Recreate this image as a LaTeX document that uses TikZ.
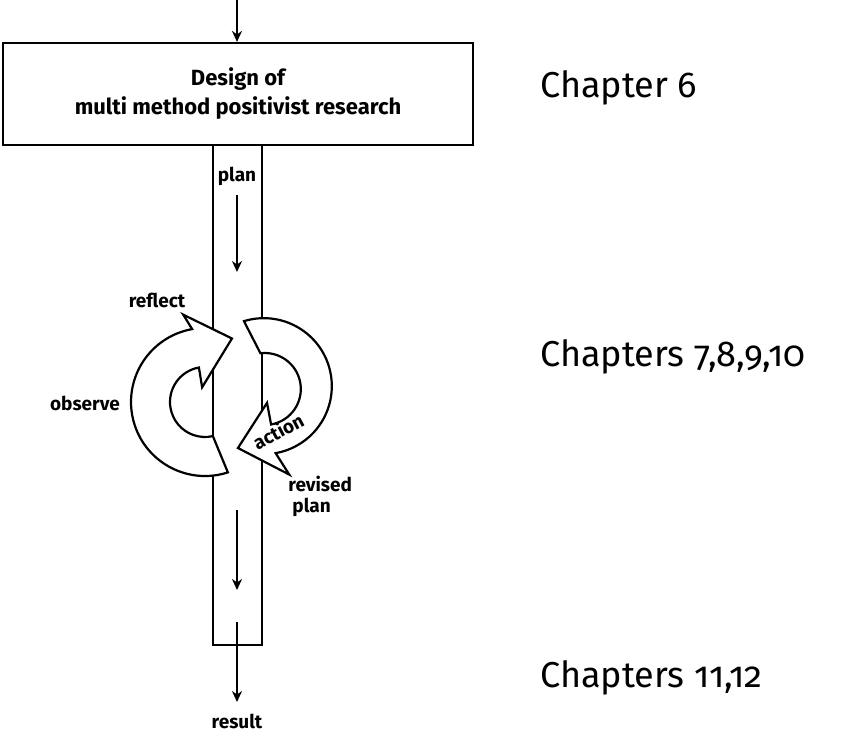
\documentclass[tikz,border=0pt]{standalone}
\usepackage{fontspec}
\setmainfont{Fira Sans}
\newfontfamily\chapfont[Numbers=OldStyle]{Fira Sans}
\usetikzlibrary{positioning,calc,arrows.meta}
\begin{document}
\begin{tikzpicture}[x=1pt,y=1pt,line width=2.2pt,>={Stealth[length=11pt,width=10pt]},
		box node/.style={rectangle, draw, minimum width=470pt, minimum height=102pt, align=center, font=\fontsize{22}{29}\selectfont\bfseries},
		tag node/.style={font=\fontsize{19}{21}\selectfont\bfseries, align=center},
		chap node/.style={anchor=west, font=\fontsize{36}{40}\chapfont},
		cycle arrow/.style={draw, fill=white, line join=miter}]

	\useasboundingbox (0,0) rectangle (848,-733);
	\node[box node] (design) at (238,-94) {Design of\\multi method positivist research};
	\coordinate (top) at (237,0);
	\draw[->] (top) -- (design.north -| top);

	% column
	\coordinate (colNW) at (213,-145);
	\coordinate (colSE) at (262,-645);
	\draw (colNW) rectangle (colSE);
	\node[tag node] (plan) at (237,-176) {plan};
	\draw[->] (237,-195) -- (237,-272);
	\draw[->] (237,-510) -- (237,-590);
	\draw[->] (237,-622) -- (237,-702);
	\node[tag node] (result) at (237,-721) {result};

	% cycle
	\coordinate (L) at (205,-402);
	\coordinate (R) at (265,-390);
	\draw[cycle arrow] ($(L)+(-72:74)$) arc[start angle=-72, end angle=-260, radius=74]
		-- ($(L)+(104:90)$) -- ($(L)+(67:69)$) -- ($(L)+(101:15)$) -- ($(L)+(100:35)$)
		arc[start angle=100, end angle=283, radius=35] -- cycle;
	\draw[cycle arrow] ($(R)+(107:72)$) arc[start angle=107, end angle=-80, radius=68]
		-- ($(R)+(-74:88)$) -- ($(R)+(-115:64)$) -- ($(R)+(-81:13)$) -- ($(R)+(-80:35)$)
		arc[start angle=-80, end angle=97, radius=36] -- cycle;

	\node[tag node] (reflect) at (157,-300) {reflect};
	\node[tag node] (observe) at (85,-403) {observe};
	\node[tag node, rotate=28, inner sep=0pt] (action) at (278,-431) {action};
	\node[tag node, align=left, anchor=north west] (revised) at (284,-472) {revised\\\hspace*{4pt}plan};

	\node[chap node] (ch6) at (536,-88) {Chapter 6};
	\node[chap node] (ch7) at (536,-357) {Chapters 7,8,9,10};
	\node[chap node] (ch11) at (536,-678) {Chapters 11,12};
\end{tikzpicture}
\end{document}
